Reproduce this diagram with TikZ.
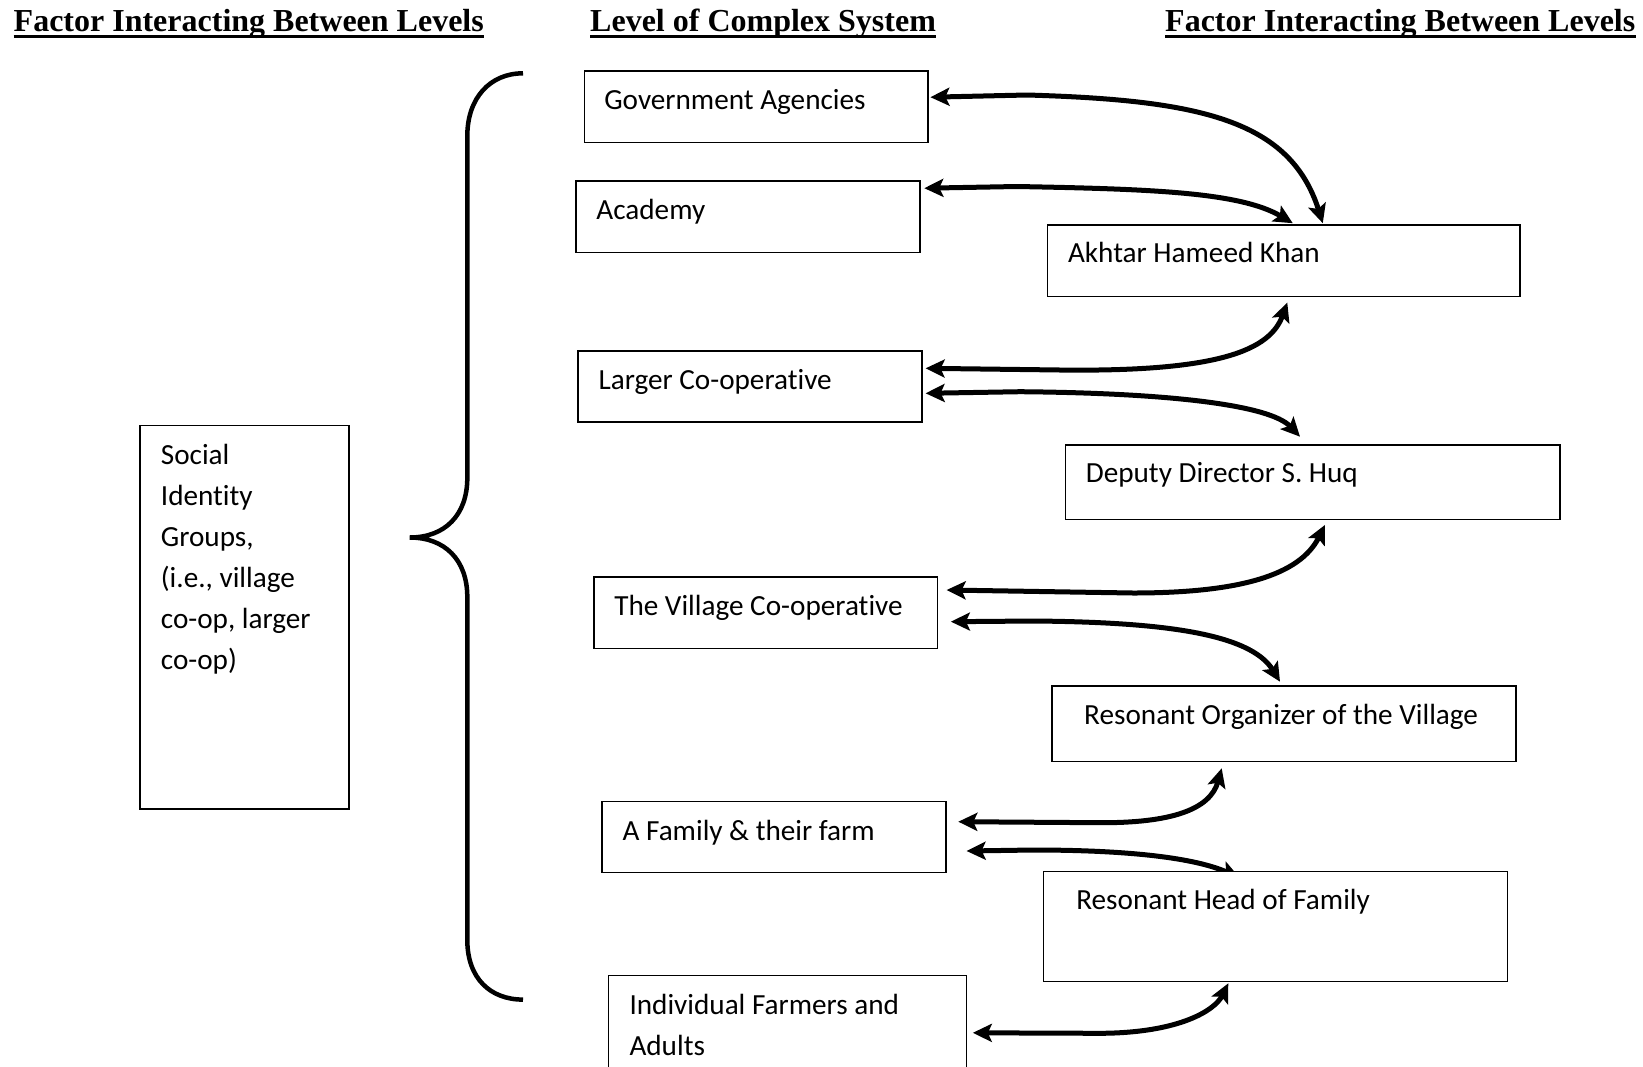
\documentclass[tikz,border=0pt]{standalone}
\usepackage{fontspec}
\setmainfont[Ligatures=NoCommon]{Carlito}
\newfontfamily\hdrfont{Liberation Serif}
\usetikzlibrary{arrows.meta,calc}
\pgfdeclarelayer{bg}
\pgfsetlayers{bg,main}
\newcommand\mytxt[1]{\parbox[t]{420pt}{\fontsize{29.2}{41}\selectfont\raggedright #1}}
\begin{document}
\begin{tikzpicture}[x=1pt,y=-1pt,
 box/.style={draw, line width=1.6pt, fill=white, rectangle, inner sep=0pt, anchor=north west},
 lbl/.style={inner sep=0pt, anchor=base west, font=\fontsize{29.2}{41}\selectfont},
 hdr/.style={inner sep=0pt, anchor=base west, font=\hdrfont\bfseries\fontsize{32}{38}\selectfont},
 uline/.style={line width=3pt},
 tipx/.tip={Stealth[length=19pt,width=18pt,inset=4pt]},
 link/.style={line width=5pt, tipx-tipx},
 brace/.style={line width=4.5pt}
]
\useasboundingbox (0,0) rectangle (1643,1066);
\clip (0,0) rectangle (1643,1066);

% headers
\node[hdr] (h1) at (13.5,31) {Factor Interacting Between Levels};
\node[hdr] (h2) at (590,31) {Level of Complex System};
\node[hdr] (h3) at (1165,31) {Factor Interacting Between Levels};
\draw[uline] ($(h1.base west)+(0,5)$) -- ($(h1.base east)+(0,5)$);
\draw[uline] ($(h2.base west)+(0,5)$) -- ($(h2.base east)+(0,5)$);
\draw[uline] ($(h3.base west)+(0,5)$) -- ($(h3.base east)+(0,5)$);

% boxes
\node[box, minimum width=208.5pt, minimum height=383.5pt] (soc) at (139.4,424.6) {};
\node[box, minimum width=343.7pt, minimum height=71.3pt] (gov) at (583.6,70.2) {};
\node[box, minimum width=343.7pt, minimum height=71.3pt] (acad) at (575.2,180.2) {};
\node[box, minimum width=472.5pt, minimum height=71.3pt] (akh) at (1046.8,224.2) {};
\node[box, minimum width=343.7pt, minimum height=71.2pt] (larger) at (577.3,350.0) {};
\node[box, minimum width=494.5pt, minimum height=74.4pt] (dep) at (1064.6,444.3) {};
\node[box, minimum width=343.6pt, minimum height=71.2pt] (vill) at (593.1,576.3) {};
\node[box, minimum width=464.1pt, minimum height=75.4pt] (org) at (1051.0,685.3) {};
\node[box, minimum width=343.7pt, minimum height=71.3pt] (fam) at (601.4,800.5) {};
\node[box, minimum width=464.2pt, minimum height=110pt] (head) at (1042.6,870.7) {};
\node[box, minimum width=358pt, minimum height=130pt] (indiv) at (607.5,974.8) {};

% texts
\node[lbl] (socT) at ($(soc.north west)+(21.3,39.5)$) {\mytxt{Social\\Identity\\Groups,\\(i.e., village\\co-op, larger\\co-op)}};
\node[lbl] (govT) at ($(gov.north west)+(20.5,39.5)$) {Government Agencies};
\node[lbl] (acadT) at ($(acad.north west)+(21,39.5)$) {Academy};
\node[lbl] (akhT) at ($(akh.north west)+(21,38.5)$) {Akhtar Hameed Khan};
\node[lbl] (largerT) at ($(larger.north west)+(21,39.5)$) {Larger Co-operative};
\node[lbl] (depT) at ($(dep.north west)+(21,38.5)$) {Deputy Director S. Huq};
\node[lbl] (villT) at ($(vill.north west)+(21,39.5)$) {The Village Co-operative};
\node[lbl] (orgT) at ($(org.north west)+(33,39)$) {Resonant Organizer of the Village};
\node[lbl] (famT) at ($(fam.north west)+(21,39.5)$) {A Family \& their farm};
\node[lbl] (headT) at ($(head.north west)+(33.5,38.5)$) {Resonant Head of Family};
\node[lbl] (indivT) at ($(indiv.north west)+(21.8,40)$) {\mytxt{Individual Farmers and\\Adults}};

% brace
\draw[brace] (523,73.3) .. controls (490,73.3) and (467.3,98) .. (467.3,136)
  -- (467.3,478) .. controls (467.3,515) and (445,537.5) .. (409.7,537.5)
  .. controls (445,537.5) and (467.3,560) .. (467.3,597)
  -- (467.3,940) .. controls (467.3,978) and (490,999.6) .. (523,999.6);

% connectors (behind boxes)
\begin{pgfonlayer}{bg}
\fill[white] (0,0) rectangle (1643,1066);
\draw[link] ($(gov.north east)+(1.5,27)$) -- (1027,95)
  .. controls (1200,100) and (1290,120) .. ($(akh.north west)+(276,-1)$);
\draw[link] ($(acad.north east)+(3.8,8)$) -- (1017,186.5)
  .. controls (1150,189) and (1240,192) .. ($(akh.north west)+(246,-1)$);
\draw[link] ($(larger.north east)+(3,18.3)$) -- (1060,370)
  .. controls (1220,372) and (1270,350) .. ($(akh.south west)+(240.5,5.5)$);
\draw[link] ($(larger.north east)+(3,43.3)$) -- (1020,391.7)
  .. controls (1170,393) and (1270,405) .. ($(dep.north west)+(235.4,-7.6)$);
\draw[link] ($(vill.north east)+(8.3,13.7)$) -- (1133,593)
  .. controls (1240,593) and (1300,575) .. ($(dep.south west)+(260.4,4.6)$);
\draw[link] ($(vill.north east)+(12.6,45.4)$) -- (1033,621)
  .. controls (1160,622) and (1250,633) .. ($(org.north west)+(229,-3.6)$);
\draw[link] ($(fam.north east)+(11.6,21.2)$) -- (1100,822.7)
  .. controls (1170,823) and (1210,810) .. ($(org.south west)+(170.7,6)$);
\draw[link] ($(fam.north east)+(19.9,50.5)$) -- (1033,850)
  .. controls (1130,850) and (1195,858) .. ($(head.north west)+(197,7)$);
\draw[link] ($(indiv.north east)+(5.7,58)$) -- (1100,1033.3)
  .. controls (1180,1033) and (1215,1010) .. ($(head.south west)+(185.7,1)$);
\end{pgfonlayer}
\end{tikzpicture}
\end{document}
